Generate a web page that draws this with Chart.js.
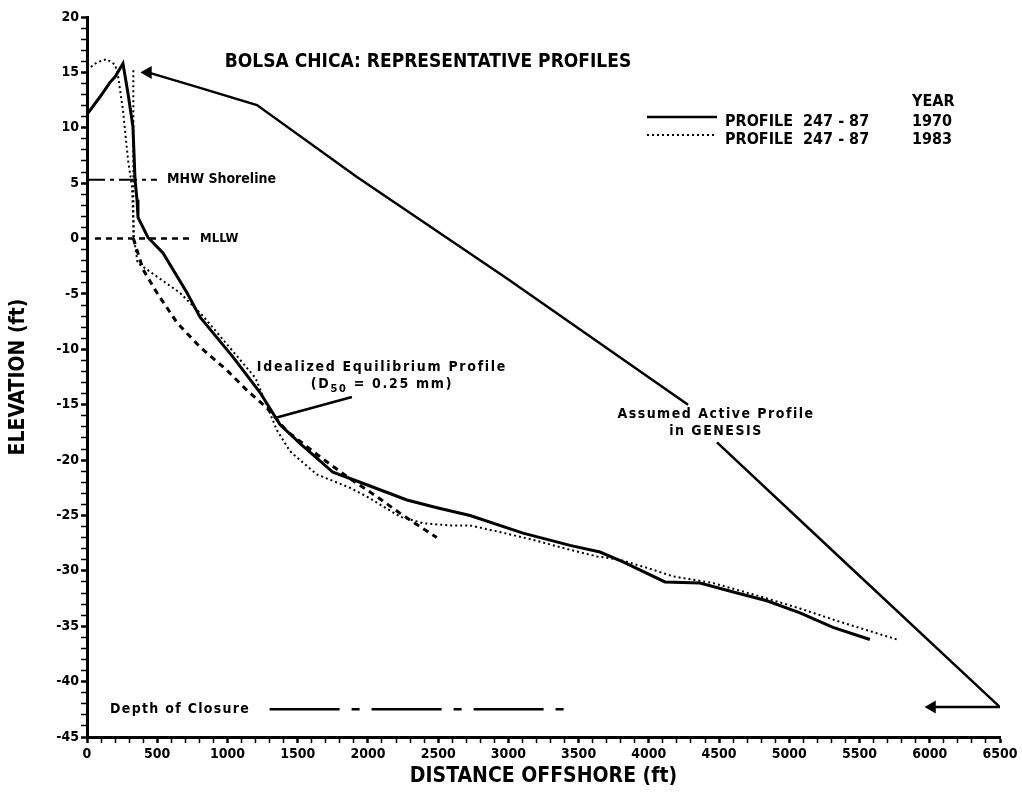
<!DOCTYPE html>
<html>
<head>
<meta charset="utf-8">
<title>Bolsa Chica representative profiles</title>
<script src="https://cdn.jsdelivr.net/npm/chart.js@4/dist/chart.umd.min.js"></script>
<style>
    html, body { margin: 0; padding: 0; background: #fff; }
    #wrap { width: 1022px; height: 792px; }
</style>
</head>
<body>
<div id="wrap"><canvas id="profiles" width="1022" height="792"></canvas></div>
<script>
// profile 247-87, surveyed 1970 (solid)
const dist1970 = [0, 93, 164, 200, 256, 292, 327, 342, 356, 363, 434, 541, 712, 805, 1040, 1232, 1374, 1516, 1751, 1944, 2278, 2492, 2727, 3104, 3439, 3652, 3816, 4115, 4364, 4628, 4840, 5076, 5311, 5574];
const elev1970 = [11.2, 12.8, 14.1, 14.6, 15.8, 13.1, 10.1, 5.3, 3.5, 1.9, 0.1, -1.3, -4.9, -7.1, -10.7, -13.9, -16.8, -18.5, -21.1, -22.0, -23.6, -24.3, -25.0, -26.6, -27.7, -28.3, -29.2, -31.0, -31.1, -32.0, -32.7, -33.8, -35.1, -36.2];

// profile 247-87, surveyed 1983 (dotted)
const dist1983 = [0, 70, 140, 200, 222, 256, 292, 320, 335, 360, 662, 826, 1000, 1200, 1352, 1445, 1516, 1637, 1872, 1993, 2228, 2392, 2585, 2727, 2940, 3175, 3439, 3631, 3795, 4030, 4172, 4456, 4790, 5076, 5361, 5767];
const elev1983 = [15.2, 15.9, 16.2, 15.7, 14.6, 11.6, 7.1, 4.7, 0.0, -2.2, -4.9, -7.0, -9.6, -12.6, -17.3, -19.2, -20.0, -21.3, -22.5, -23.3, -25.1, -25.7, -25.9, -25.9, -26.5, -27.2, -28.1, -28.7, -29.0, -29.9, -30.5, -31.1, -32.3, -33.4, -34.6, -36.2];

// idealized equilibrium profile, D50 = 0.25 mm (dashed)
const distIdeal = [330, 399, 498, 641, 805, 997, 1139, 1281, 1424, 1659, 1851, 2064, 2228, 2490];
const elevIdeal = [0.0, -2.8, -4.9, -7.6, -9.8, -11.9, -13.7, -15.3, -17.4, -19.7, -21.5, -23.3, -24.8, -27.0];

// assumed active profile in GENESIS (null = hidden under its label)
const distActive = [434, 805, 1210, 1922, 2990, 3702, 4279, 4380, 4485, 5432, 6500, 6016];
const elevActive = [15.0, 13.6, 12.05, 5.55, -3.6, -9.9, -15.0, null, -18.4, -29.65, -42.3, -42.3];

// reference levels
const mhwDist = [0, 498];
const mhwElev = [5.3, 5.3];
const mllwDist = [57, 747];
const mllwElev = [0, 0];
const closureDist = [1300, 3460];
const closureElev = [-42.5, -42.5];
const bermDist = [330, 330];
const bermElev = [15.2, 0];
const leaderDist = [1338, 1886];
const leaderElev = [-16.2, -14.3];

const xTicks = [0, 6500];
const yTicks = [-45, 20];

const FONT = "'DejaVu Sans Condensed', 'DejaVu Sans', sans-serif";

function toPoints(xs, ys) {
    return xs.map((x, i) => ({ x: x, y: ys[i] }));
}

function lineSet(xs, ys, width, dash) {
    return {
        data: toPoints(xs, ys),
        borderColor: '#000',
        borderWidth: width,
        borderDash: dash || [],
        pointRadius: 0,
        fill: false,
        tension: 0
    };
}

// texts and the legend drawn onto the canvas
const textPlugin = {
    id: 'texts',
    afterDatasetsDraw(chart) {
        const ctx = chart.ctx;
        const x = chart.scales.x, y = chart.scales.y;
        ctx.save();
        ctx.fillStyle = '#000';
        ctx.strokeStyle = '#000';
        ctx.textBaseline = 'middle';

        ctx.font = 'bold 19px ' + FONT;
        ctx.textAlign = 'center';
        ctx.fillText('BOLSA CHICA: REPRESENTATIVE PROFILES', 428, 62);

        // legend
        ctx.font = 'bold 16px ' + FONT;
        ctx.textAlign = 'left';
        ctx.fillText('YEAR', 912, 102);
        ctx.fillText('PROFILE  247 - 87', 725, 122);
        ctx.fillText('1970', 912, 122);
        ctx.fillText('PROFILE  247 - 87', 725, 140);
        ctx.fillText('1983', 912, 140);
        ctx.lineWidth = 2.5;
        ctx.beginPath();
        ctx.moveTo(647, 117);
        ctx.lineTo(717, 117);
        ctx.stroke();
        ctx.lineWidth = 2;
        ctx.setLineDash([2, 3]);
        ctx.beginPath();
        ctx.moveTo(647, 135);
        ctx.lineTo(717, 135);
        ctx.stroke();
        ctx.setLineDash([]);

        // annotations
        ctx.textAlign = 'left';
        ctx.font = 'bold 14px ' + FONT;
        ctx.fillText('MHW Shoreline', x.getPixelForValue(570), y.getPixelForValue(5.3));
        ctx.font = 'bold 13px ' + FONT;
        ctx.fillText('MLLW', x.getPixelForValue(805), y.getPixelForValue(0));

        ctx.font = 'bold 14px ' + FONT;
        ctx.letterSpacing = '1.3px';
        ctx.fillText('Depth of Closure', x.getPixelForValue(164), y.getPixelForValue(-42.5));

        ctx.textAlign = 'center';
        ctx.letterSpacing = '1.7px';
        ctx.fillText('Idealized Equilibrium Profile', x.getPixelForValue(2100), y.getPixelForValue(-11.6));
        const dx = x.getPixelForValue(2100), dy = y.getPixelForValue(-13.2);
        ctx.textAlign = 'left';
        const p1 = '(D', p2 = '50', p3 = ' = 0.25 mm)';
        const w1 = ctx.measureText(p1).width, w3 = ctx.measureText(p3).width;
        ctx.font = 'bold 11px ' + FONT;
        const w2 = ctx.measureText(p2).width;
        let sx = dx - (w1 + w2 + w3) / 2;
        ctx.font = 'bold 14px ' + FONT;
        ctx.fillText(p1, sx, dy);
        ctx.font = 'bold 11px ' + FONT;
        ctx.fillText(p2, sx + w1, dy + 4);
        ctx.font = 'bold 14px ' + FONT;
        ctx.fillText(p3, sx + w1 + w2, dy);

        ctx.textAlign = 'center';
        ctx.letterSpacing = '1.5px';
        ctx.fillText('Assumed Active Profile', x.getPixelForValue(4478), y.getPixelForValue(-15.9));
        ctx.fillText('in GENESIS', x.getPixelForValue(4478), y.getPixelForValue(-17.45));
        ctx.restore();
    }
};

const active = lineSet(distActive, elevActive, 2.5);
active.pointStyle = 'triangle';
active.pointRotation = 270;
active.pointBackgroundColor = '#000';
active.pointBorderColor = '#000';
active.pointRadius = (c) => (c.dataIndex === 0 || c.dataIndex === distActive.length - 1) ? 5 : 0;
active.spanGaps = false;

new Chart(document.getElementById('profiles'), {
    type: 'line',
    data: {
        datasets: [
            lineSet(dist1970, elev1970, 3),
            lineSet(dist1983, elev1983, 2, [2, 3]),
            lineSet(distIdeal, elevIdeal, 3, [6, 5]),
            active,
            lineSet(mhwDist, mhwElev, 2, [18, 5, 4, 5]),
            lineSet(mllwDist, mllwElev, 2.5, [6, 5]),
            lineSet(closureDist, closureElev, 2.5, [70, 12, 8, 12]),
            lineSet(bermDist, bermElev, 2, [2, 3]),
            lineSet(leaderDist, leaderElev, 2.5)
        ]
    },
    options: {
        responsive: false,
        animation: false,
        layout: { padding: { left: 0, right: 22, top: 17, bottom: 0 } },
        plugins: {
            legend: { display: false },
            tooltip: { enabled: false }
        },
        scales: {
            x: {
                type: 'linear',
                min: xTicks[0],
                max: xTicks[1],
                afterFit: (s) => { s.height = 55; },
                ticks: {
                    stepSize: 100,
                    autoSkip: false,
                    maxRotation: 0,
                    padding: 3,
                    color: '#000',
                    font: { family: FONT, size: 14, weight: 'bold' },
                    callback: (v) => (v % 500 === 0 ? v : '')
                },
                grid: {
                    drawOnChartArea: false,
                    tickLength: 6,
                    tickColor: '#000',
                    tickWidth: (c) => (c.tick && c.tick.value % 500 === 0 ? 2.5 : 1.5)
                },
                border: { color: '#000', width: 3 },
                title: {
                    display: true,
                    text: 'DISTANCE OFFSHORE (ft)',
                    color: '#000',
                    font: { family: FONT, size: 21, weight: 'bold' },
                    padding: { top: 0, bottom: 3 }
                }
            },
            y: {
                min: yTicks[0],
                max: yTicks[1],
                afterFit: (s) => { s.width = 87; },
                ticks: {
                    stepSize: 1,
                    autoSkip: false,
                    padding: 2,
                    color: '#000',
                    font: { family: FONT, size: 14, weight: 'bold' },
                    callback: (v) => (v % 5 === 0 ? v : '')
                },
                grid: {
                    drawOnChartArea: false,
                    tickLength: 6,
                    tickColor: '#000',
                    tickWidth: (c) => (c.tick && c.tick.value % 5 === 0 ? 2.5 : 1.5)
                },
                border: { color: '#000', width: 3 },
                title: {
                    display: true,
                    text: 'ELEVATION (ft)',
                    color: '#000',
                    font: { family: FONT, size: 21, weight: 'bold' },
                    padding: { top: 6, bottom: 0 }
                }
            }
        }
    },
    plugins: [textPlugin]
});
</script>
</body>
</html>
